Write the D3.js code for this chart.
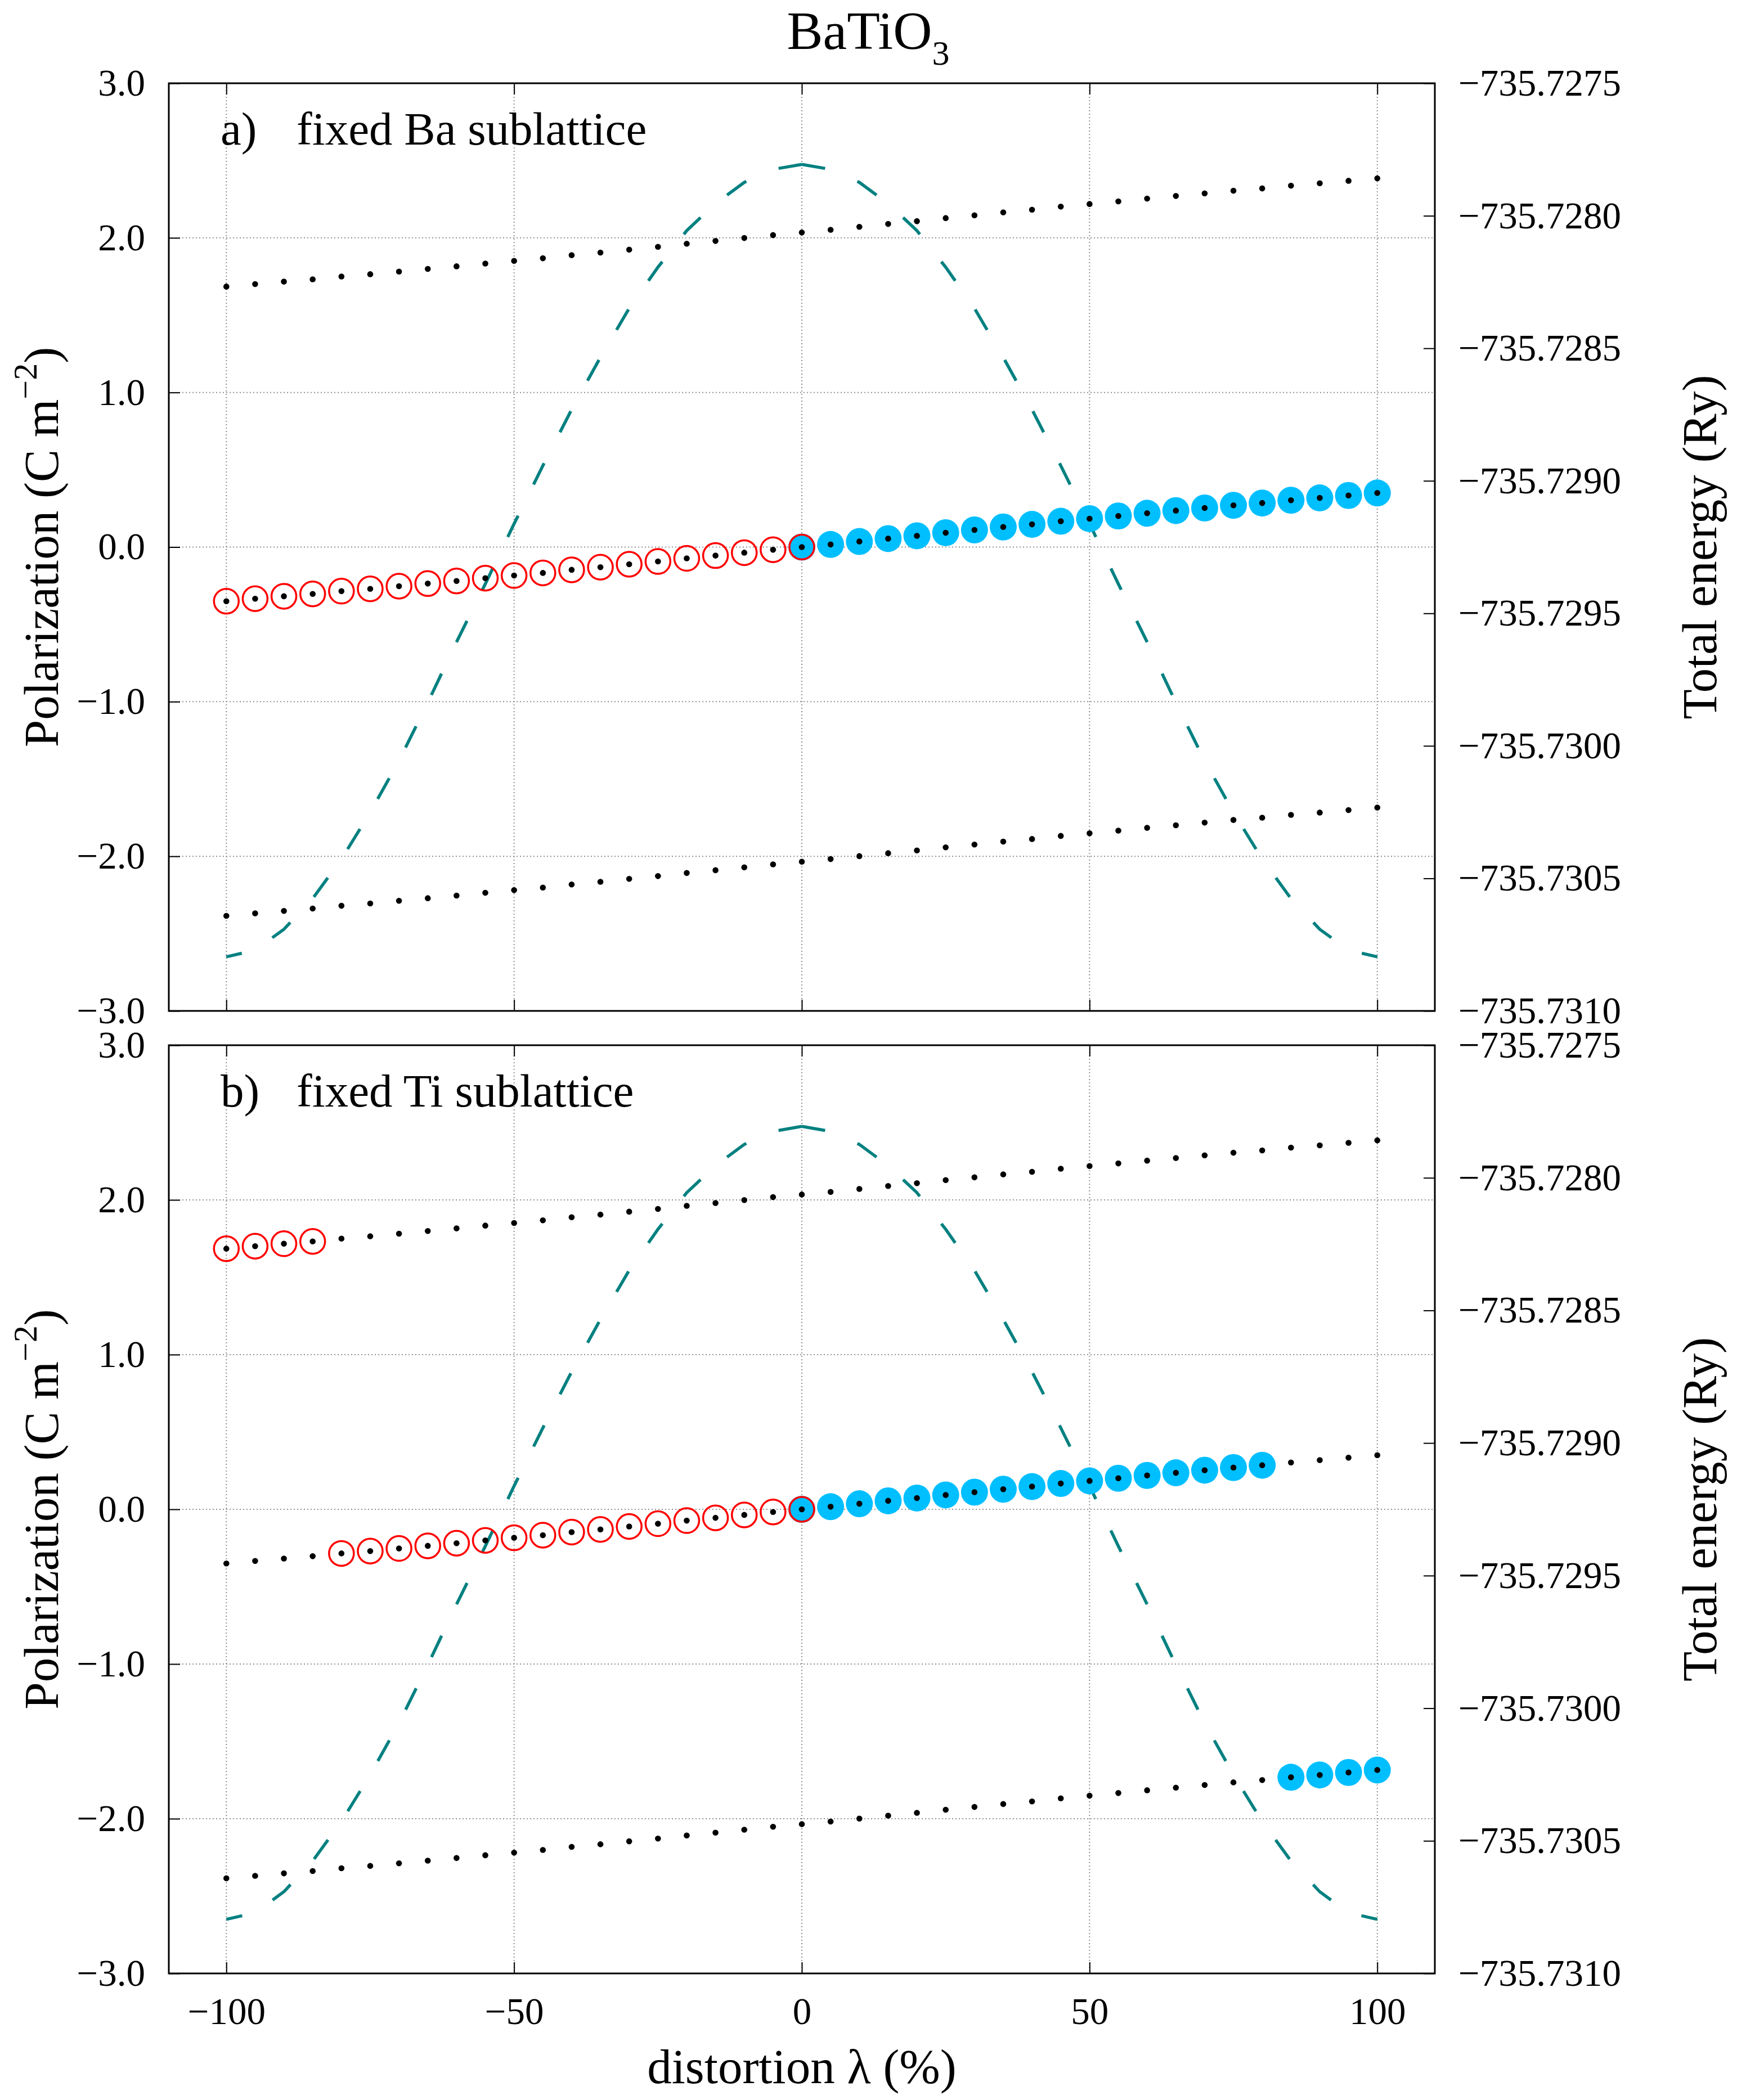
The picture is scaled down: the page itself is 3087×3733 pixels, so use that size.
<!DOCTYPE html>
<html>
<head>
<meta charset="utf-8">
<script src="https://cdn.jsdelivr.net/npm/d3@7"></script>
<style>
  body { margin: 0; background: #fff; }
</style>
</head>
<body>
<script>
// distortion in %
const lambda = [-100, -95, -90, -85, -80, -75, -70, -65, -60, -55, -50, -45, -40, -35, -30, -25, -20, -15, -10, -5,
    0, 5, 10, 15, 20, 25, 30, 35, 40, 45, 50, 55, 60, 65, 70, 75, 80, 85, 90, 95, 100];

// polarization branches (C m^-2)
const polMid = [-0.350, -0.334, -0.318, -0.303, -0.285, -0.270, -0.253, -0.236, -0.219, -0.201, -0.184, -0.167, -0.147, -0.130, -0.111, -0.093, -0.073, -0.055, -0.036, -0.017,
    0.000, 0.017, 0.036, 0.055, 0.073, 0.093, 0.111, 0.130, 0.147, 0.167, 0.184, 0.201, 0.219, 0.236, 0.253, 0.270, 0.285, 0.303, 0.318, 0.334, 0.350];
const polUp = [1.685, 1.701, 1.717, 1.732, 1.750, 1.765, 1.782, 1.799, 1.816, 1.834, 1.851, 1.868, 1.888, 1.905, 1.924, 1.942, 1.962, 1.980, 1.999, 2.018,
    2.035, 2.052, 2.071, 2.090, 2.108, 2.128, 2.146, 2.165, 2.182, 2.202, 2.219, 2.236, 2.254, 2.271, 2.288, 2.305, 2.320, 2.338, 2.353, 2.369, 2.385];
const polLow = [-2.385, -2.369, -2.353, -2.338, -2.320, -2.305, -2.288, -2.271, -2.254, -2.236, -2.219, -2.202, -2.182, -2.165, -2.146, -2.128, -2.108, -2.090, -2.071, -2.052,
    -2.035, -2.018, -1.999, -1.980, -1.962, -1.942, -1.924, -1.905, -1.888, -1.868, -1.851, -1.834, -1.816, -1.799, -1.782, -1.765, -1.750, -1.732, -1.717, -1.701, -1.685];

// total energy (Ry)
const energy = [-735.730796, -735.730771, -735.730692, -735.730576, -735.730427, -735.730251, -735.730056, -735.729837, -735.729608, -735.729389,
    -735.729162, -735.728943, -735.728731, -735.728534, -735.728349, -735.728194, -735.728056, -735.727954, -735.727874, -735.727825,
    -735.727806,
    -735.727825, -735.727874, -735.727954, -735.728056, -735.728194, -735.728349, -735.728534, -735.728731, -735.728943, -735.729162,
    -735.729389, -735.729608, -735.729837, -735.730056, -735.730251, -735.730427, -735.730576, -735.730692, -735.730771, -735.730796];

const xTicks = [-100, -50, 0, 50, 100];
const polTicks = [-3, -2, -1, 0, 1, 2, 3];
const energyTicks = [-735.7310, -735.7305, -735.7300, -735.7295, -735.7290, -735.7285, -735.7280, -735.7275];

const panelTags = ["a)", "b)"];
const panelTitles = ["fixed Ba sublattice", "fixed Ti sublattice"];

// [from, to, branch] runs of the circled points
const redRuns = [[[-100, 0, "mid"]], [[-100, -85, "up"], [-80, 0, "mid"]]];
const blueRuns = [[[0, 100, "mid"]], [[0, 80, "mid"], [85, 100, "low"]]];

const width = 3087;
const height = 3733;
const font = "'Liberation Serif', 'Times New Roman', serif";

const svg = d3.select("body")
    .append("svg")
    .attr("width", width)
    .attr("height", height)
    .style("background", "#fff");

const x = d3.scaleLinear().domain([-110, 110]).range([300, 2550]);
const panels = [{ top: 148, bottom: 1797 }, { top: 1858, bottom: 3508 }];
const branches = { up: polUp, mid: polMid, low: polLow };

const pick = runs => {
    const pts = [];
    runs.forEach(([a, b, br]) => {
        lambda.forEach((l, i) => {
            if (l >= a && l <= b) pts.push([l, branches[br][i]]);
        });
    });
    return pts;
};

svg.append("text")
    .attr("x", 1543)
    .attr("y", 87)
    .attr("text-anchor", "middle")
    .style("font-family", font)
    .style("font-size", "96px")
    .text("BaTiO")
    .append("tspan")
    .attr("dy", 28)
    .style("font-size", "62px")
    .text("3");

panels.forEach((p, k) => {
    const yP = d3.scaleLinear().domain([-3, 3]).range([p.bottom, p.top]);
    const yE = d3.scaleLinear().domain([-735.7310, -735.7275]).range([p.bottom, p.top]);
    const g = svg.append("g");

    // grid
    g.selectAll(".vgrid")
        .data(xTicks)
        .enter()
        .append("line")
        .attr("x1", d => x(d)).attr("x2", d => x(d))
        .attr("y1", p.top).attr("y2", p.bottom)
        .attr("stroke", "#909090")
        .attr("stroke-width", 2)
        .attr("stroke-dasharray", "2,4");

    g.selectAll(".hgrid")
        .data(polTicks.filter(v => Math.abs(v) < 3))
        .enter()
        .append("line")
        .attr("x1", 300).attr("x2", 2550)
        .attr("y1", d => yP(d)).attr("y2", d => yP(d))
        .attr("stroke", "#909090")
        .attr("stroke-width", 2)
        .attr("stroke-dasharray", "2,4");

    // energy curve, dashed from the centre outwards
    const line = d3.line().x(d => x(d[0])).y(d => yE(d[1]));
    const pairs = lambda.map((l, i) => [l, energy[i]]);
    const halves = [pairs.slice(0, 21).reverse(), pairs.slice(20)];
    halves.forEach(h => {
        g.append("path")
            .datum(h)
            .attr("d", line)
            .attr("fill", "none")
            .attr("stroke", "#008080")
            .attr("stroke-width", 5.5)
            .attr("stroke-dasharray", "42,62");
    });

    g.selectAll(".blue")
        .data(pick(blueRuns[k]))
        .enter()
        .append("circle")
        .attr("cx", d => x(d[0]))
        .attr("cy", d => yP(d[1]))
        .attr("r", 24)
        .attr("fill", "#00bfff");

    g.selectAll(".red")
        .data(pick(redRuns[k]))
        .enter()
        .append("circle")
        .attr("cx", d => x(d[0]))
        .attr("cy", d => yP(d[1]))
        .attr("r", 22)
        .attr("fill", "none")
        .attr("stroke", "#ff0000")
        .attr("stroke-width", 3.5);

    [polUp, polMid, polLow].forEach(br => {
        g.selectAll(null)
            .data(lambda.map((l, i) => [l, br[i]]))
            .enter()
            .append("circle")
            .attr("cx", d => x(d[0]))
            .attr("cy", d => yP(d[1]))
            .attr("r", 5.3)
            .attr("fill", "#000");
    });

    g.append("rect")
        .attr("x", 300).attr("y", p.top)
        .attr("width", 2250).attr("height", p.bottom - p.top)
        .attr("fill", "none")
        .attr("stroke", "#000")
        .attr("stroke-width", 3);

    // axes
    const styleAxis = sel => {
        sel.select(".domain").remove();
        sel.selectAll(".tick line").attr("stroke", "#000").attr("stroke-width", 2);
        sel.selectAll(".tick text")
            .attr("fill", "#000")
            .style("font-family", font)
            .style("font-size", "67px");
    };

    g.append("g")
        .attr("transform", "translate(300,0)")
        .call(d3.axisLeft(yP).tickValues(polTicks).tickSize(-20).tickPadding(42).tickFormat(d3.format(".1f")))
        .call(styleAxis);

    g.append("g")
        .attr("transform", "translate(2550,0)")
        .call(d3.axisRight(yE).tickValues(energyTicks).tickSize(-20).tickPadding(42).tickFormat(d3.format(".4f")))
        .call(styleAxis);

    g.append("g")
        .attr("transform", `translate(0,${p.top})`)
        .call(d3.axisTop(x).tickValues(xTicks).tickSize(-20).tickFormat(""))
        .call(styleAxis);

    g.append("g")
        .attr("transform", `translate(0,${p.bottom})`)
        .call(d3.axisBottom(x).tickValues(xTicks).tickSize(-20).tickPadding(42)
            .tickFormat(k === 1 ? d3.format("d") : ""))
        .call(styleAxis);

    // panel labels
    g.append("text")
        .attr("x", 392).attr("y", p.top + 109)
        .style("font-family", font).style("font-size", "83px")
        .text(panelTags[k]);
    g.append("text")
        .attr("x", 527).attr("y", p.top + 109)
        .style("font-family", font).style("font-size", "83px")
        .text(panelTitles[k]);

    const cy = (p.top + p.bottom) / 2;

    const yl = g.append("text")
        .attr("transform", `translate(103,${cy}) rotate(-90)`)
        .attr("text-anchor", "middle")
        .style("font-family", font)
        .style("font-size", "87px");
    yl.append("tspan").text("Polarization (C m");
    yl.append("tspan").attr("dy", -38).style("font-size", "60px").text("\u22122");
    yl.append("tspan").attr("dy", 38).text(")");

    g.append("text")
        .attr("transform", `translate(3050,${cy}) rotate(-90)`)
        .attr("text-anchor", "middle")
        .style("font-family", font)
        .style("font-size", "87px")
        .text("Total energy (Ry)");
});

svg.append("text")
    .attr("x", 1425)
    .attr("y", 3703)
    .attr("text-anchor", "middle")
    .style("font-family", font)
    .style("font-size", "87px")
    .text("distortion \u03bb (%)");
</script>
</body>
</html>
